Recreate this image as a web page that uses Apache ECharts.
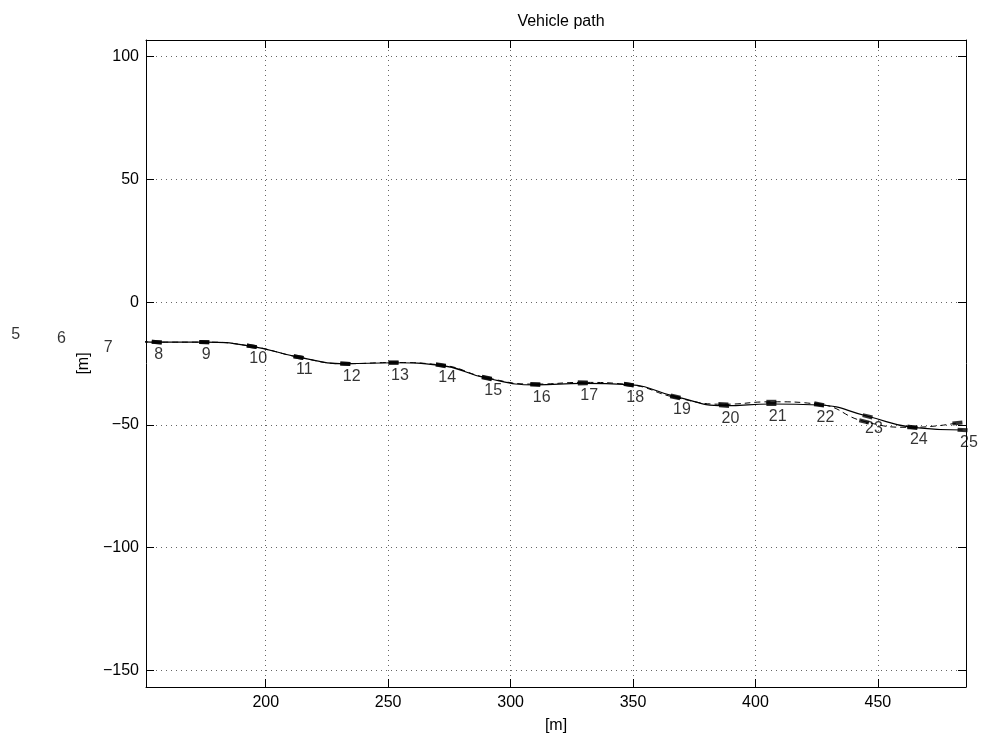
<!DOCTYPE html>
<html><head><meta charset="utf-8">
<script src="https://cdn.jsdelivr.net/npm/echarts@6/dist/echarts.min.js"></script>
<style>html,body{margin:0;padding:0;background:#fff}#c{width:986px;height:740px}</style>
</head><body><div id="c"></div>
<script>
// ---- data ----
const pointIds = [5,6,7,8,9,10,11,12,13,14,15,16,17,18,19,20,21,22,23,24,25];
const solidX = [97.1,115.8,134.9,155.5,174.9,194.3,213.4,232.5,252.2,271.5,290.3,310.1,329.5,348.3,367.4,387.2,406.5,426.0,445.8,464.1,484.6];
const solidY = [-8.3,-9.6,-13.5,-16.3,-16.3,-18.0,-22.4,-25.1,-24.7,-25.8,-31.0,-33.7,-33.1,-33.6,-38.5,-42.2,-41.5,-41.9,-46.5,-51.0,-52.1];
const dashX = [97.1,115.8,134.9,155.5,174.9,194.3,213.4,232.5,252.2,271.5,290.3,310.1,329.5,348.3,367.2,386.9,406.5,426.0,444.4,464.1,482.5];
const dashY = [-8.3,-9.6,-13.5,-16.3,-16.3,-18.0,-22.4,-25.1,-24.6,-25.6,-30.8,-33.4,-32.7,-33.6,-38.8,-41.6,-40.6,-41.6,-48.6,-51.0,-49.2];
const xTicks = [200,250,300,350,400,450];
const yTicks = [-150,-100,-50,0,50,100];
const xRange = [151.1, 486.0];
const yRange = [-156.8, 106.8];

const FONT = 'Liberation Sans, Arial, Helvetica, sans-serif';
const FS = 16;

function pairs(xs, ys){ return xs.map((x,i)=>[x, ys[i]]); }
function headings(xs, ys){
  return xs.map((x,i)=>{
    const a = Math.max(0,i-1), b = Math.min(xs.length-1,i+1);
    return Math.atan2(ys[b]-ys[a], xs[b]-xs[a]) * 180/Math.PI;
  });
}
function markerData(xs, ys){
  const h = headings(xs, ys);
  return xs.map((x,i)=>({value:[x, ys[i]], symbolRotate: h[i]}));
}
const minus = v => String(v).replace('-', '\u2212');

const axisCommon = {
  axisLine:{show:true, onZero:false, lineStyle:{color:'#000', width:1}},
  axisTick:{show:true, inside:true, length:8, lineStyle:{color:'#000', width:1}},
};

const option = {
  animation:false,
  backgroundColor:'#fff',
  title:{text:'Vehicle path', left:556, top:9, textAlign:'center',
    textStyle:{fontFamily:FONT, fontSize:FS, fontWeight:'normal', color:'#000'}},
  grid:{left:146, top:40, right:20, bottom:53, containLabel:false},
  xAxis:[
    Object.assign({type:'value', min:xRange[0], max:xRange[1], position:'bottom',
      name:'[m]', nameLocation:'middle', nameGap:31,
      nameTextStyle:{fontFamily:FONT, fontSize:FS, color:'#000'},
      axisLabel:{customValues:xTicks, fontFamily:FONT, fontSize:FS, color:'#000', margin:8, formatter:minus},
      splitLine:{show:true, lineStyle:{color:'#666', width:1, type:[1,4]}}}, axisCommon,
      {axisTick:Object.assign({}, axisCommon.axisTick, {customValues:xTicks})}),
    Object.assign({type:'value', min:xRange[0], max:xRange[1], position:'top',
      axisLabel:{show:false}, splitLine:{show:false}}, axisCommon,
      {axisTick:Object.assign({}, axisCommon.axisTick, {customValues:xTicks})})
  ],
  yAxis:[
    Object.assign({type:'value', min:yRange[0], max:yRange[1], position:'left',
      name:'[m]', nameLocation:'middle', nameGap:51,
      nameTextStyle:{fontFamily:FONT, fontSize:FS, color:'#000'},
      axisLabel:{customValues:yTicks, fontFamily:FONT, fontSize:FS, color:'#000', margin:7, formatter:minus},
      splitLine:{show:true, lineStyle:{color:'#666', width:1, type:[1,4]}}}, axisCommon,
      {axisTick:Object.assign({}, axisCommon.axisTick, {customValues:yTicks})}),
    Object.assign({type:'value', min:yRange[0], max:yRange[1], position:'right',
      axisLabel:{show:false}, splitLine:{show:false}}, axisCommon,
      {axisTick:Object.assign({}, axisCommon.axisTick, {customValues:yTicks})})
  ],
  series:[
    {type:'line', data:pairs(dashX, dashY), smooth:0.5, showSymbol:false, symbol:'none',
      lineStyle:{color:'#000', width:1, type:[6,4]}, z:2},
    {type:'line', data:pairs(solidX, solidY), smooth:0.5, showSymbol:false, symbol:'none',
      lineStyle:{color:'#000', width:1.2, type:'solid'}, z:3},
    {type:'scatter', data:markerData(dashX, dashY), symbol:'rect', symbolSize:[10,4],
      itemStyle:{color:'#000'}, z:4},
    {type:'scatter', data:markerData(solidX, solidY), symbol:'rect', symbolSize:[10,4],
      itemStyle:{color:'#000'}, z:5},
    {type:'scatter', clip:false, data:pairs(solidX, solidY).map((p,i)=>({value:p, name:String(pointIds[i])})),
      symbolSize:1, itemStyle:{color:'rgba(0,0,0,0)'}, z:6,
      label:{show:true, formatter:p=>p.name, position:[-2,13], align:'left', verticalAlign:'middle',
        fontFamily:FONT, fontSize:FS, color:'#000'}}
  ]
};
const chart = echarts.init(document.getElementById('c'), null, {renderer:'canvas'});
chart.setOption(option);
</script></body></html>
